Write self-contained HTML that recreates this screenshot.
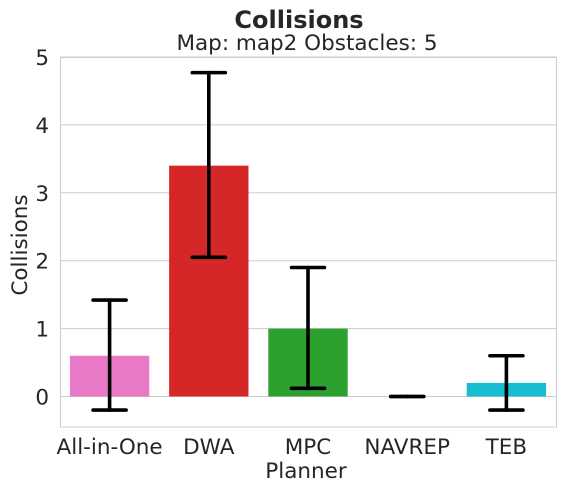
<!DOCTYPE html>
<html><head><meta charset="utf-8"><style>
body{margin:0;background:#fff;}
svg text{font-family:"DejaVu Sans","Liberation Sans",sans-serif;fill:#262626;}
</style></head><body>
<svg width="565" height="492" xmlns="http://www.w3.org/2000/svg">
<text x="299" y="28" text-anchor="middle" font-size="24" font-weight="bold">Collisions</text>
<text x="307" y="50" text-anchor="middle" font-size="21.5">Map: map2 Obstacles: 5</text>
<g id="grid"></g>
<g id="bars"></g>
<g id="errs"></g>
<rect x="60.5" y="57.5" width="496" height="369.5" fill="none" stroke="#cccccc" stroke-width="1"/>
<g id="yt"></g><g id="xt"></g>
<text x="306" y="478" text-anchor="middle" font-size="21.5">Planner</text>
<text transform="translate(27,245) rotate(-90)" text-anchor="middle" font-size="21.5">Collisions</text>
</svg>
<script>
const categories=["All-in-One","DWA","MPC","NAVREP","TEB"];
const values=[0.6,3.4,1.0,0.0,0.2];
const errLow=[-0.2,2.05,0.12,0.0,-0.2];
const errHigh=[1.42,4.77,1.9,0.0,0.6];
const colors=["#e87ac8","#d62728","#2ca02c","#7f7f7f","#17becf"];
const yTicks=[0,1,2,3,4,5];
const NS="http://www.w3.org/2000/svg";
const x0=60,x1=556,band=(x1-x0)/categories.length;
function y(v){return 396.5-v*67.9;}
function xc(i){return x0+band*(i+0.5);}
function mk(t,a,p){const e=document.createElementNS(NS,t);for(const k in a)e.setAttribute(k,a[k]);document.getElementById(p).appendChild(e);return e;}
yTicks.forEach(t=>{
 const l=mk('line',{x1:x0,x2:x1,y1:y(t),y2:y(t),stroke:'#cccccc','stroke-width':1},'grid');
 
 
 const tx=mk('text',{x:49,y:y(t)+8,'text-anchor':'end','font-size':21.5},'yt');tx.textContent=t;
 
 
});
categories.forEach((c,i)=>{
 const w=band*0.8,v=values[i];
 const r=mk('rect',{x:xc(i)-w/2,y:Math.min(y(v),y(0)),width:w,height:Math.abs(y(0)-y(v)),fill:colors[i]},'bars');
 
 
 const g=mk('g',{stroke:'#000','stroke-width':3.6,'stroke-linecap':'round'},'errs');
 
 
 const cx=xc(i),hw=16.5;
 [[cx,y(errLow[i]),cx,y(errHigh[i])],[cx-hw,y(errLow[i]),cx+hw,y(errLow[i])],[cx-hw,y(errHigh[i]),cx+hw,y(errHigh[i])]].forEach(p=>{
  const l=document.createElementNS(NS,'line');l.setAttribute('x1',p[0]);l.setAttribute('y1',p[1]);l.setAttribute('x2',p[2]);l.setAttribute('y2',p[3]);g.appendChild(l);
 });
 const tx=mk('text',{x:cx,y:454,'text-anchor':'middle','font-size':21.5},'xt');tx.textContent=c;
 
 
});
</script>
</body></html>
